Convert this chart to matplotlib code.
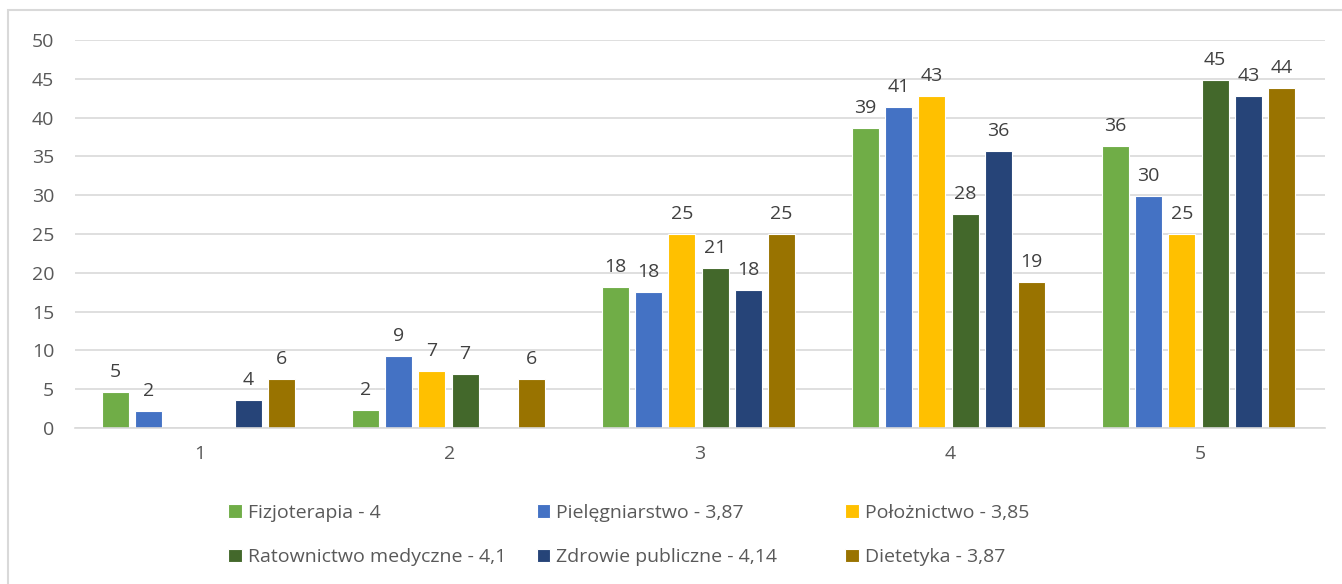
import matplotlib.pyplot as plt
import numpy as np
from matplotlib.patches import Rectangle

plt.rcParams['font.family'] = ['Open Sans', 'DejaVu Sans']

# Oceny 1-5 wg kierunku studiów (%)
grades = ["1", "2", "3", "4", "5"]
series_names = [
    "Fizjoterapia - 4",
    "Pielęgniarstwo - 3,87",
    "Położnictwo - 3,85",
    "Ratownictwo medyczne - 4,1",
    "Zdrowie publiczne - 4,14",
    "Dietetyka - 3,87",
]
fizjoterapia = [4.6, 2.3, 18.2, 38.7, 36.3]
pielegniarstwo = [2.2, 9.3, 17.5, 41.4, 29.9]
poloznictwo = [0.0, 7.3, 25.0, 42.8, 25.0]
ratownictwo = [0.0, 7.0, 20.6, 27.6, 44.8]
zdrowie_publiczne = [3.6, 0.0, 17.8, 35.7, 42.8]
dietetyka = [6.3, 6.3, 25.0, 18.8, 43.8]
yticks = [0, 5, 10, 15, 20, 25, 30, 35, 40, 45, 50]

series = [fizjoterapia, pielegniarstwo, poloznictwo, ratownictwo, zdrowie_publiczne, dietetyka]
colors = ["#70AD47", "#4472C4", "#FFC000", "#43682B", "#264478", "#997300"]

fig = plt.figure(figsize=(13.42, 5.84), dpi=100)
ax = fig.add_axes([0.0559, 0.2671, 0.9314, 0.6644])

x = np.arange(1, len(grades) + 1)
step = 0.133
width = 0.108
handles = []
for i, (vals, col, name) in enumerate(zip(series, colors, series_names)):
    pos = x + (i - 2.5) * step - 0.006
    bars = ax.bar(pos, vals, width, color=col, edgecolor="white", linewidth=0.8, label=name)
    handles.append(bars)
    for px, v in zip(pos, vals):
        if v > 0:
            ax.annotate(f"{v:.0f}", (px, v), xytext=(0, 8), textcoords="offset points",
                        ha="center", va="bottom", fontsize=14, color="#404040")

ax.set_xlim(0.5, len(grades) + 0.5)
ax.set_ylim(0, 50)
ax.set_yticks(yticks)
ax.set_xticks(x)
ax.set_xticklabels(grades)
ax.yaxis.grid(True, color="#D9D9D9", linewidth=1.2)
ax.set_axisbelow(True)
for s in ["top", "right", "left"]:
    ax.spines[s].set_visible(False)
ax.spines["bottom"].set_color("#D9D9D9")
ax.spines["bottom"].set_linewidth(1.2)
ax.tick_params(axis="both", length=0, labelsize=14, labelcolor="#595959")
ax.tick_params(axis="y", pad=15)
ax.tick_params(axis="x", pad=12)

# legenda w trzech kolumnach, wiersz po wierszu
col_x = [0.170, 0.400, 0.630]
for c in range(3):
    fig.legend([handles[c], handles[c + 3]], [series_names[c], series_names[c + 3]],
               loc="center left", bbox_to_anchor=(col_x[c], 1 - 535 / 584), frameon=False,
               fontsize=14, handlelength=0.7, handleheight=0.7, handletextpad=0.3,
               labelspacing=1.36, labelcolor="#595959", borderpad=0, borderaxespad=0)

fig.patches.append(Rectangle((8 / 1342, -0.1), 1.2, 1.1 - 10 / 584, transform=fig.transFigure,
                             fill=False, edgecolor="#D9D9D9", linewidth=1.5))

fig.savefig("out.png", dpi=100)
